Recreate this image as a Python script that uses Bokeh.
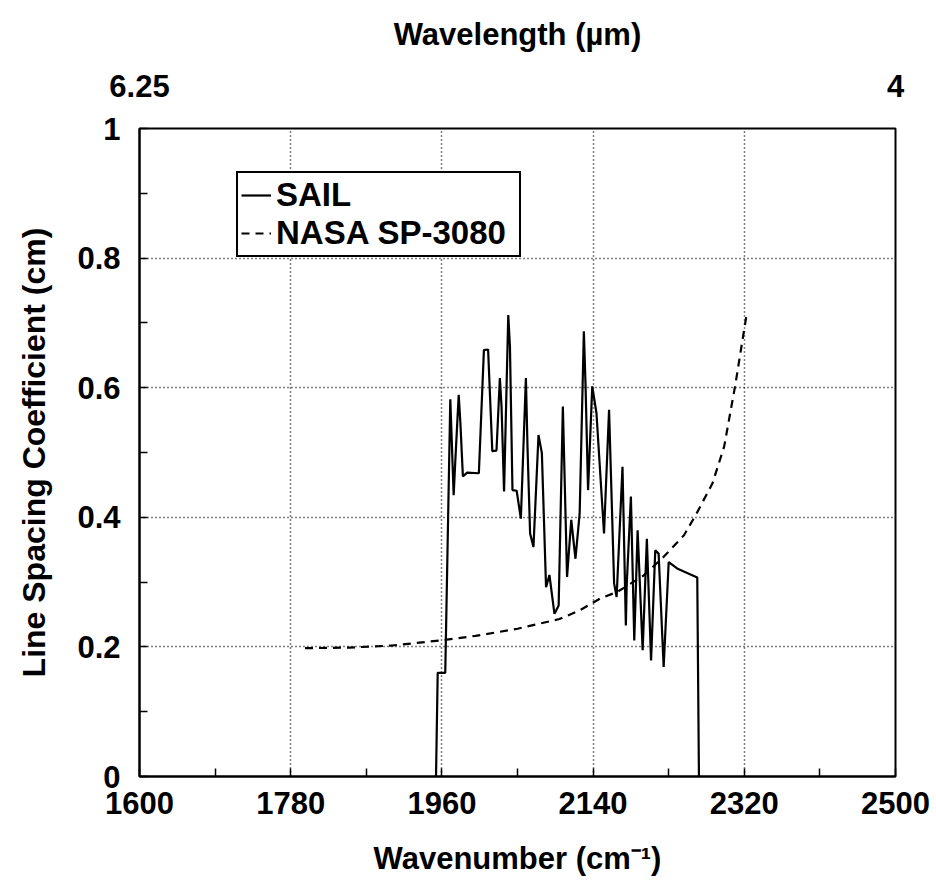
from bokeh.plotting import figure
from bokeh.models import (LinearAxis, FixedTicker, Range1d,
                          Legend, LegendItem, CustomJSTickFormatter)
from bokeh.embed import file_html
from bokeh.resources import INLINE

# ---- data ----
sail_x = [1953, 1955, 1964, 1970, 1974, 1976, 1980, 1982, 1985, 1990, 2004, 2010,
          2015, 2020, 2025, 2029, 2031, 2034, 2039, 2041, 2044, 2049, 2054, 2060,
          2062, 2065, 2069, 2075, 2079, 2084, 2088, 2094, 2099, 2104, 2109, 2114,
          2119, 2124, 2129, 2131, 2134, 2139, 2144, 2153, 2159, 2165, 2168, 2175,
          2179, 2180, 2185, 2189, 2193, 2199, 2204, 2209, 2214, 2218, 2224, 2230,
          2240, 2252, 2264, 2266]
sail_y = [0.0, 0.16, 0.16, 0.582, 0.434, 0.488, 0.589, 0.546, 0.463, 0.469, 0.468, 0.658,
          0.659, 0.502, 0.503, 0.615, 0.571, 0.44, 0.712, 0.664, 0.442, 0.441, 0.398, 0.615,
          0.504, 0.375, 0.354, 0.527, 0.499, 0.292, 0.311, 0.251, 0.264, 0.571, 0.308, 0.396,
          0.336, 0.406, 0.687, 0.604, 0.442, 0.602, 0.561, 0.375, 0.566, 0.298, 0.277, 0.478,
          0.233, 0.295, 0.432, 0.21, 0.38, 0.195, 0.367, 0.179, 0.349, 0.344, 0.169, 0.331,
          0.321, 0.314, 0.307, 0.0]

nasa_x = [1797, 1850, 1900, 1958, 2000, 2050, 2100, 2125, 2149, 2169, 2200, 2224,
          2248, 2262, 2282, 2296, 2309, 2323]
nasa_y = [0.198, 0.199, 0.202, 0.21, 0.217, 0.228, 0.243, 0.257, 0.275, 0.285, 0.31,
          0.339, 0.372, 0.403, 0.452, 0.509, 0.602, 0.715]

x_major = [1600, 1780, 1960, 2140, 2320, 2500]
x_minor = [1690, 1870, 2050, 2230, 2410]
y_major = [0, 0.2, 0.4, 0.6, 0.8, 1.0]
y_minor = [0.1, 0.3, 0.5, 0.7, 0.9]

top_ticks = [1600, 2500]
top_labels = ["6.25", "4"]

FONT = "Liberation Sans"
FS = "31px"
STYLE = "bold"

p = figure(width=936, height=892, output_backend="svg", toolbar_location=None,
           x_range=Range1d(1600, 2500), y_range=Range1d(0, 1),
           min_border_left=139, min_border_right=41, min_border_top=128,
           min_border_bottom=116)
p.background_fill_color = "white"
p.border_fill_color = "white"
p.outline_line_color = "black"
p.outline_line_width = 2

xt = FixedTicker(ticks=x_major, minor_ticks=x_minor)
yt = FixedTicker(ticks=y_major, minor_ticks=y_minor)
p.xaxis.ticker = xt
p.yaxis.ticker = yt
p.xgrid.ticker = FixedTicker(ticks=x_major)
p.ygrid.ticker = FixedTicker(ticks=y_major)
for g in (p.xgrid, p.ygrid):
    g.grid_line_color = "black"
    g.grid_line_dash = "1 3"
    g.grid_line_width = 1.5

p.yaxis.formatter = CustomJSTickFormatter(code="return Number(tick.toFixed(2)).toString();")

for ax in (p.xaxis[0], p.yaxis[0]):
    ax.major_tick_in = 8
    ax.major_tick_out = 0
    ax.minor_tick_in = 8
    ax.minor_tick_out = 0
    ax.axis_line_width = 2
    ax.major_tick_line_width = 1.5
    ax.minor_tick_line_width = 1.5
    ax.major_label_text_font = FONT
    ax.major_label_text_font_size = FS
    ax.major_label_text_font_style = STYLE
    ax.major_label_text_color = "black"
    ax.axis_label_text_font = FONT
    ax.axis_label_text_font_size = FS
    ax.axis_label_text_font_style = STYLE
    ax.axis_label_text_color = "black"

p.xaxis.axis_label = "Wavenumber (cm⁻¹)"
p.xaxis.major_label_standoff = 15
p.xaxis.axis_label_standoff = 24
p.yaxis.axis_label = "Line Spacing Coefficient (cm)"
p.yaxis.axis_label_text_font_size = "32px"
p.yaxis.major_label_standoff = 19
p.yaxis.axis_label_standoff = 22

top = LinearAxis(ticker=FixedTicker(ticks=top_ticks),
                 major_label_overrides={t: l for t, l in zip(top_ticks, top_labels)},
                 axis_label="Wavelength (µm)")
top.major_tick_in = 0
top.major_tick_out = 0
top.minor_tick_in = 0
top.minor_tick_out = 0
top.axis_line_color = None
top.major_label_standoff = 32
top.axis_label_standoff = 20
top.major_label_text_font = FONT
top.major_label_text_font_size = FS
top.major_label_text_font_style = STYLE
top.major_label_text_color = "black"
top.axis_label_text_font = FONT
top.axis_label_text_font_size = FS
top.axis_label_text_font_style = STYLE
top.axis_label_text_color = "black"
p.add_layout(top, "above")

r1 = p.line(sail_x, sail_y, line_color="black", line_width=2.2)
r2 = p.line(nasa_x, nasa_y, line_color="black", line_width=2.2, line_dash="8 6")

legend = Legend(items=[LegendItem(label="SAIL", renderers=[r1]),
                       LegendItem(label="NASA SP-3080", renderers=[r2])],
                location=(97, 519), margin=0, padding=3, spacing=0,
                glyph_width=30, glyph_height=30, label_height=30, label_width=240,
                label_standoff=5,
                label_text_font=FONT, label_text_font_size="33px",
                label_text_line_height=0.9,
                label_text_font_style=STYLE, label_text_color="black",
                border_line_color="black", border_line_width=2, border_line_alpha=1,
                background_fill_color="white", background_fill_alpha=1)
p.add_layout(legend)

open("out.html", "w").write(file_html(p, INLINE))
